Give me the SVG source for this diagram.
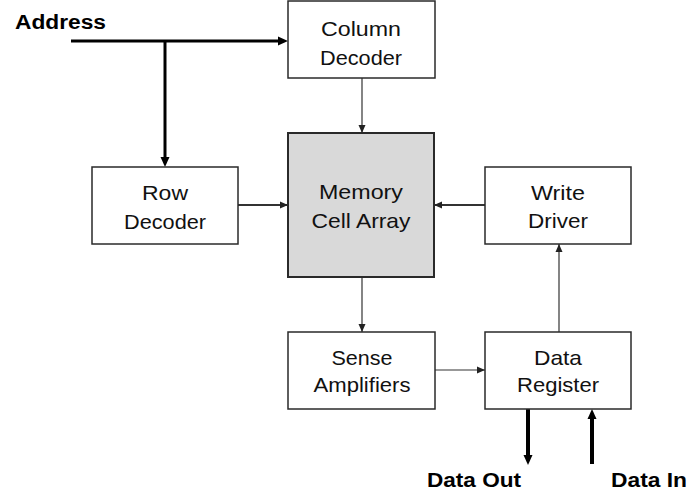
<svg xmlns="http://www.w3.org/2000/svg" width="696" height="494" viewBox="0 0 696 494">
<style>
.box{fill:#fff;stroke:#2a2a2a;stroke-width:1.5}
.mem{fill:#d9d9d9;stroke:#2a2a2a;stroke-width:2}
.t{font-family:"Liberation Sans",Arial,sans-serif;font-size:21px;fill:#111;text-anchor:middle}
.b{font-family:"Liberation Sans",Arial,sans-serif;font-size:20px;font-weight:bold;fill:#000}
.thin{stroke:#333;stroke-width:1.2;fill:none}
.mid{stroke:#333;stroke-width:2;fill:none}
.bold{stroke:#000;stroke-width:3;fill:none}
.heavy{stroke:#000;stroke-width:4;fill:none}
</style>
<defs>
<marker id="ah" viewBox="0 0 8 8" markerWidth="8" markerHeight="8" markerUnits="userSpaceOnUse" refX="8" refY="4" orient="auto">
<path d="M0,0.5 L8,4 L0,7.5 z" fill="#222"/>
</marker>
<marker id="ahb" viewBox="0 0 10 10" markerWidth="10" markerHeight="10" markerUnits="userSpaceOnUse" refX="4" refY="5" orient="auto">
<path d="M0,0.5 L10,5 L0,9.5 z" fill="#000"/>
</marker>
</defs>
<rect width="696" height="494" fill="#fff"/>
<g id="connectors">
<line class="bold" x1="71" y1="41" x2="282" y2="41" marker-end="url(#ahb)"/>
<line class="bold" x1="165" y1="41" x2="165" y2="161" marker-end="url(#ahb)"/>
<line class="thin" x1="362" y1="78" x2="362" y2="133" marker-end="url(#ah)"/>
<line class="mid" x1="238" y1="205" x2="288" y2="205" marker-end="url(#ah)"/>
<line class="mid" x1="485" y1="205" x2="434" y2="205" marker-end="url(#ah)"/>
<line class="thin" x1="362" y1="277" x2="362" y2="332" marker-end="url(#ah)"/>
<line class="thin" x1="435" y1="370" x2="485" y2="370" marker-end="url(#ah)"/>
<line class="thin" x1="559" y1="332" x2="559" y2="244" marker-end="url(#ah)"/>
<line class="heavy" x1="528" y1="409" x2="528" y2="459" marker-end="url(#ahb)"/>
<line class="heavy" x1="592" y1="464" x2="592" y2="415" marker-end="url(#ahb)"/>
</g>
<g id="address-label"><text class="b" x="15" y="29" textLength="91" lengthAdjust="spacingAndGlyphs">Address</text></g>
<g id="data-out-label"><text class="b" x="427" y="487" textLength="94" lengthAdjust="spacingAndGlyphs">Data Out</text></g>
<g id="data-in-label"><text class="b" x="611" y="487" textLength="76" lengthAdjust="spacingAndGlyphs">Data In</text></g>
<g id="column-decoder">
<rect class="box" x="288" y="1" width="147" height="77"/>
<text class="t" x="361" y="36" textLength="80" lengthAdjust="spacingAndGlyphs">Column</text>
<text class="t" x="361" y="65" textLength="82" lengthAdjust="spacingAndGlyphs">Decoder</text>
</g>
<g id="row-decoder">
<rect class="box" x="92" y="167" width="146" height="77"/>
<text class="t" x="165" y="200" textLength="46" lengthAdjust="spacingAndGlyphs">Row</text>
<text class="t" x="165" y="229" textLength="82" lengthAdjust="spacingAndGlyphs">Decoder</text>
</g>
<g id="memory-cell-array">
<rect class="mem" x="288" y="133" width="146" height="144"/>
<text class="t" x="361" y="199" textLength="84" lengthAdjust="spacingAndGlyphs">Memory</text>
<text class="t" x="361" y="228" textLength="99" lengthAdjust="spacingAndGlyphs">Cell Array</text>
</g>
<g id="write-driver">
<rect class="box" x="485" y="167" width="146" height="77"/>
<text class="t" x="558" y="200" textLength="54" lengthAdjust="spacingAndGlyphs">Write</text>
<text class="t" x="558" y="228" textLength="60" lengthAdjust="spacingAndGlyphs">Driver</text>
</g>
<g id="sense-amplifiers">
<rect class="box" x="288" y="332" width="147" height="77"/>
<text class="t" x="362" y="365" textLength="61" lengthAdjust="spacingAndGlyphs">Sense</text>
<text class="t" x="362" y="392" textLength="97" lengthAdjust="spacingAndGlyphs">Amplifiers</text>
</g>
<g id="data-register">
<rect class="box" x="485" y="332" width="146" height="77"/>
<text class="t" x="558" y="365" textLength="48" lengthAdjust="spacingAndGlyphs">Data</text>
<text class="t" x="558" y="392" textLength="82" lengthAdjust="spacingAndGlyphs">Register</text>
</g>
</svg>
